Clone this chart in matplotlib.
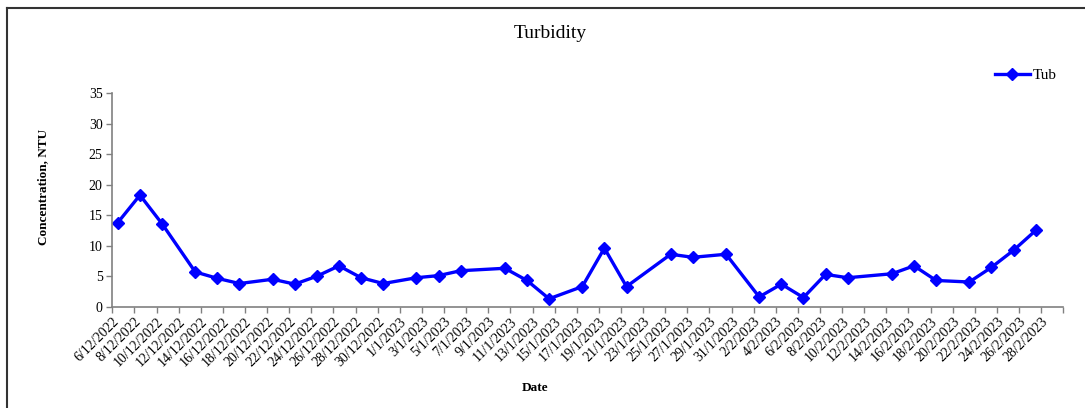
import datetime as dt
import matplotlib
matplotlib.use("Agg")
import matplotlib.pyplot as plt
import matplotlib.transforms as mtransforms
from matplotlib.lines import Line2D

plt.rcParams['font.family'] = ['Liberation Serif', 'DejaVu Serif']

# sampling dates and turbidity readings (NTU)
dates = ["6/12/2022", "8/12/2022", "10/12/2022", "13/12/2022", "15/12/2022",
         "17/12/2022", "20/12/2022", "22/12/2022", "24/12/2022", "26/12/2022",
         "28/12/2022", "30/12/2022", "2/1/2023", "4/1/2023", "6/1/2023",
         "10/1/2023", "12/1/2023", "14/1/2023", "17/1/2023", "19/1/2023",
         "21/1/2023", "25/1/2023", "27/1/2023", "30/1/2023", "2/2/2023",
         "4/2/2023", "6/2/2023", "8/2/2023", "10/2/2023", "14/2/2023",
         "16/2/2023", "18/2/2023", "21/2/2023", "23/2/2023", "25/2/2023",
         "27/2/2023"]
tub = [13.8, 18.3, 13.6, 5.7, 4.65, 3.8, 4.5, 3.7, 5.0, 6.7,
       4.75, 3.8, 4.75, 5.1, 5.9, 6.3, 4.3, 1.3, 3.3, 9.6,
       3.3, 8.6, 8.1, 8.6, 1.6, 3.7, 1.5, 5.3, 4.75, 5.4,
       6.7, 4.3, 4.05, 6.45, 9.25, 12.5]

axis_start = dt.datetime(2022, 12, 6)
axis_end = dt.datetime(2023, 3, 2)
last_label = dt.datetime(2023, 2, 28)

x = [dt.datetime.strptime(d, "%d/%m/%Y") + dt.timedelta(hours=12) for d in dates]

fig = plt.figure(figsize=(10.85, 4.08), dpi=100)
ax = fig.add_axes([0.1035, 0.2483, 0.8765, 0.523])

ax.plot(x, tub, color='#0000ff', lw=2.4, marker='D', ms=6.5, label='Tub')

ax.set_xlim(axis_start, axis_end)
ax.set_ylim(0, 35)
ax.set_yticks(range(0, 36, 5))

ticks = []
t = axis_start
while t <= axis_end:
    ticks.append(t)
    t += dt.timedelta(days=2)
ax.set_xticks(ticks)
labels = [f"{d.day}/{d.month}/{d.year}" if d <= last_label else "" for d in ticks]
ax.set_xticklabels(labels, rotation=45, ha='right', va='top', rotation_mode='anchor',
                   fontsize=10)
off = mtransforms.ScaledTranslation(6/100, 0, fig.dpi_scale_trans)
for lab in ax.get_xticklabels():
    lab.set_transform(lab.get_transform() + off)

ax.tick_params(axis='y', labelsize=10, length=4, width=1, color='#808080', pad=3)
ax.tick_params(axis='x', length=4, width=1, color='#808080', pad=2)
for s in ['top', 'right']:
    ax.spines[s].set_visible(False)
for s in ['left', 'bottom']:
    ax.spines[s].set_color('#808080')
    ax.spines[s].set_linewidth(1.2)

ax.set_ylabel('Concentration, NTU', fontweight='bold', fontsize=9.5)
ax.yaxis.set_label_coords(-0.066, 0.56)
fig.text(0.493, 0.049, 'Date', fontweight='bold', fontsize=9.5, ha='center', va='center')
fig.text(0.507, 0.917, 'Turbidity', fontsize=14, ha='center', va='center')

ax.legend(loc='center left', bbox_to_anchor=(0.928, 1.085), frameon=False, fontsize=11,
          handlelength=2.3, handletextpad=0.2, borderaxespad=0, borderpad=0)

# chart area border (left and top visible)
fig.add_artist(Line2D([7/1085, 7/1085], [0, 1 - 8/408], color='#333333', lw=1.5,
                      transform=fig.transFigure))
fig.add_artist(Line2D([7/1085, 1], [1 - 8/408, 1 - 8/408], color='#333333', lw=1.5,
                      transform=fig.transFigure))

fig.savefig('out.png', dpi=100)
